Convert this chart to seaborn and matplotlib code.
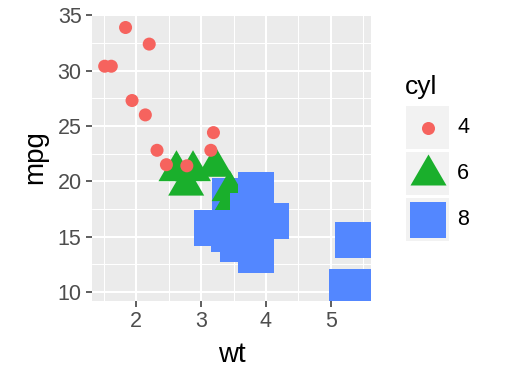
import seaborn as sns
import pandas as pd
import matplotlib.pyplot as plt
import numpy as np
from matplotlib.path import Path
from matplotlib.patches import Rectangle

sns.set_theme(style="darkgrid")
plt.rcParams['font.family'] = ['Liberation Sans', 'DejaVu Sans']

# mtcars: weight, mileage, cylinders (row order kept)
wt = [2.620, 2.875, 2.320, 3.215, 3.440, 3.460, 3.570, 3.190, 3.150, 3.440, 3.440,
      4.070, 3.730, 3.780, 5.250, 5.424, 5.345, 2.200, 1.615, 1.835, 2.465, 3.520,
      3.435, 3.840, 3.845, 1.935, 2.140, 1.513, 3.170, 2.770, 3.570, 2.780]
mpg = [21.0, 21.0, 22.8, 21.4, 18.7, 18.1, 14.3, 24.4, 22.8, 19.2, 17.8,
       16.4, 17.3, 15.2, 10.4, 10.4, 14.7, 32.4, 30.4, 33.9, 21.5, 15.5,
       15.2, 13.3, 19.2, 27.3, 26.0, 30.4, 15.8, 19.7, 15.0, 21.4]
cyl = ['6', '6', '4', '6', '8', '6', '8', '4', '4', '6', '6',
       '8', '8', '8', '8', '8', '8', '4', '4', '4', '4', '8',
       '8', '8', '8', '4', '4', '4', '8', '6', '8', '4']
levels = ['4', '6', '8']
x_ticks = [2, 3, 4, 5]
y_ticks = [10, 15, 20, 25, 30, 35]

df = pd.DataFrame({'wt': wt, 'mpg': mpg, 'cyl': cyl})

colors = {'4': '#F6635E', '6': '#1AAF2C', '8': '#5387FF'}
tri = Path([(-1, -0.61), (1, -0.61), (0, 1.11), (-1, -0.61)],
           [Path.MOVETO, Path.LINETO, Path.LINETO, Path.CLOSEPOLY])
markers = {'4': 'o', '6': tri, '8': 's'}
sizes = {'4': 88, '6': 830, '8': 672}

fig = plt.figure(figsize=(5.18, 3.84), dpi=100)
ax = fig.add_axes([92/518, (384-300.5)/384, 279/518, 286/384])

sns.scatterplot(data=df, x='wt', y='mpg', hue='cyl', style='cyl', size='cyl',
                hue_order=levels, style_order=levels, size_order=levels,
                palette=colors, markers=markers, sizes=sizes,
                linewidth=0, alpha=1, legend=False, ax=ax)

ax.set_facecolor('#EBEBEB')
ax.set_xlim(1.3175, 5.6195)
ax.set_ylim(9.225, 35.075)
ax.set_xticks(x_ticks)
ax.set_yticks(y_ticks)
ax.set_xticks(np.arange(1.5, 5.6, 1), minor=True)
ax.set_yticks(np.arange(12.5, 35, 5), minor=True)
ax.grid(which='major', color='white', linewidth=1.5)
ax.grid(which='minor', color='white', linewidth=0.75)
ax.set_axisbelow(True)
for s in ax.spines.values():
    s.set_visible(False)
ax.tick_params(which='major', length=4.5, width=1.1, color='#333333',
               labelsize=15.5, labelcolor='#4D4D4D', pad=3, bottom=True, left=True)
ax.tick_params(which='minor', length=0)
ax.set_xlabel('wt', fontsize=20, color='black', labelpad=7)
ax.set_ylabel('mpg', fontsize=20, color='black', labelpad=7)

# legend drawn in figure pixel coordinates
lg = fig.add_axes([0, 0, 1, 1], facecolor='none')
lg.set_xlim(0, 518)
lg.set_ylim(384, 0)
lg.axis('off')
lg.text(405, 94, 'cyl', fontsize=19, color='black', va='baseline', ha='left')
key_tops = [106, 152, 198]
for lev, top in zip(levels, key_tops):
    lg.add_patch(Rectangle((406, top), 43, 43, facecolor='#F2F2F2', edgecolor='none'))
    lg.scatter([427.5], [top + 21.5], s=sizes[lev], marker=markers[lev],
               color=colors[lev], linewidth=0)
    lg.text(457, top + 21.5, lev, fontsize=15.5, color='black', va='center', ha='left')

fig.savefig('out.png', dpi=100)
